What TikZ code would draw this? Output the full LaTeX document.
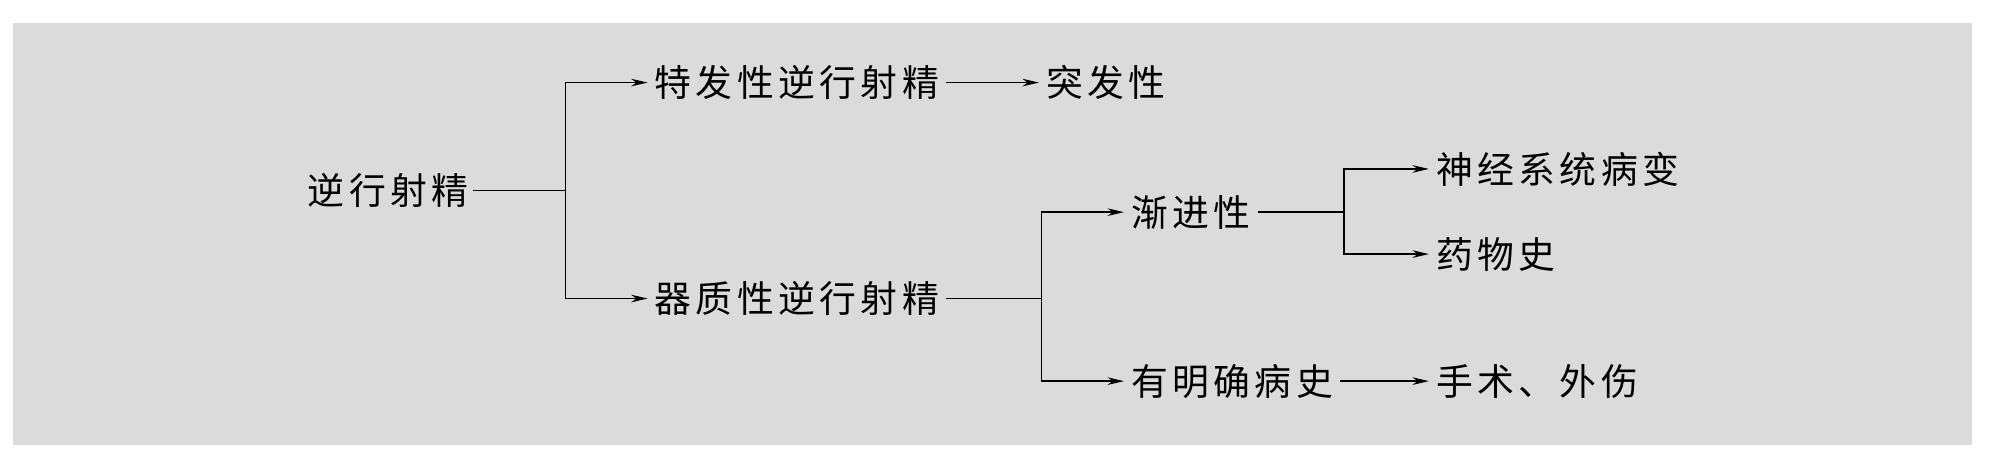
\documentclass[tikz,border=0pt]{standalone}
\usepackage{fontspec}
\newfontfamily\cjk[LetterSpace=12]{Noto Sans CJK SC}
\usetikzlibrary{arrows.meta}
\begin{document}
\begin{tikzpicture}[x=0.02cm,y=-0.02cm,
  lbl/.style={anchor=west,inner sep=0pt,font=\cjk\fontsize{16.5}{18}\selectfont},
  ln/.style={line width=0.6pt},
  arr/.style={ln,-{Stealth[length=0.26cm,width=0.12cm]}}]
\useasboundingbox (0,0) rectangle (1568,354);
\fill[gray!28] (10,18) rectangle (1552,350);
\node[lbl] (root) at (242,150) {逆行射精};
\node[lbl] (a) at (515,65) {特发性逆行射精};
\node[lbl] (a1) at (823,65) {突发性};
\node[lbl] (b) at (515,235) {器质性逆行射精};
\node[lbl] (c) at (890,167) {渐进性};
\node[lbl] (d) at (890,300) {有明确病史};
\node[lbl] (c1) at (1130,133) {神经系统病变};
\node[lbl] (c2) at (1130,200) {药物史};
\node[lbl] (d1) at (1130,300) {手术、外伤};
\coordinate (p) at (445,150);
\coordinate (q) at (820,235);
\coordinate (r) at (1058,167);
\draw[ln] (root.east) ++(3,0) -- (p);
\draw[arr] (p) |- ([xshift=-3]a.west);
\draw[arr] (p) |- ([xshift=-3]b.west);
\draw[arr] ([xshift=3]a.east) -- ([xshift=-3]a1.west);
\draw[ln] ([xshift=3]b.east) -- (q);
\draw[arr] (q) |- ([xshift=-3]c.west);
\draw[arr] (q) |- ([xshift=-3]d.west);
\draw[ln] ([xshift=3]c.east) -- (r);
\draw[arr] (r) |- ([xshift=-3]c1.west);
\draw[arr] (r) |- ([xshift=-3]c2.west);
\draw[arr] ([xshift=3]d.east) -- ([xshift=-3]d1.west);
\end{tikzpicture}
\end{document}
